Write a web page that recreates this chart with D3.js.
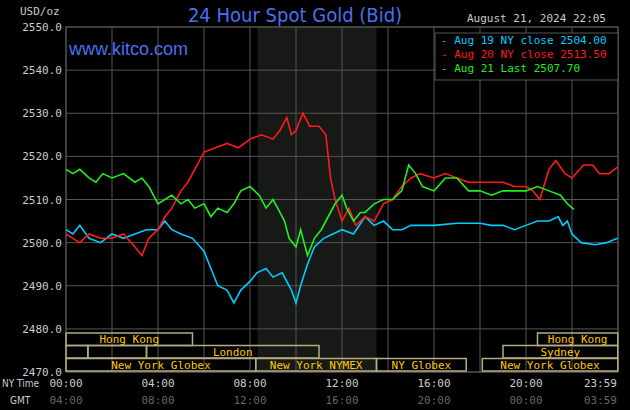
<!DOCTYPE html><html><head><meta charset="utf-8">
<script src="https://cdn.jsdelivr.net/npm/d3@7"></script>
<style>body{margin:0;background:#000}</style></head><body><svg width="630" height="410"></svg>
<script>
const yTicks=[2470,2480,2490,2500,2510,2520,2530,2540,2550];
const xTickLabels=["00:00","04:00","08:00","12:00","16:00","20:00","23:59"];
const gmtLabels=["04:00","08:00","12:00","16:00","20:00","00:00","03:59"];
const xTickHours=[0,4,8,12,16,20,23.983];
// hours, price
const aug19=[[0,2503],[0.3,2502],[0.6,2504],[1,2501],[1.5,2500],[2,2502],[2.5,2501],[3,2502],[3.5,2503],[4,2503],[4.3,2505],[4.6,2503],[5,2502],[5.5,2501],[6,2498],[6.3,2494],[6.6,2490],[7,2489],[7.3,2486],[7.6,2489],[8,2491],[8.3,2493],[8.7,2494],[9,2492],[9.4,2493],[9.8,2489],[10,2486],[10.2,2490],[10.5,2495],[10.8,2499],[11.2,2501],[11.6,2502],[12,2503],[12.5,2502],[13,2506],[13.4,2504],[13.8,2505],[14.2,2503],[14.6,2503],[15,2504],[15.5,2504],[16,2504],[17,2504.5],[18,2504.5],[18.5,2504],[19,2504],[19.5,2503],[20,2504],[20.5,2505],[21,2505],[21.4,2506],[21.6,2504],[21.8,2505],[22,2502],[22.4,2500],[23,2499.5],[23.5,2500],[23.98,2501]];
const aug20=[[0,2502],[0.3,2501],[0.6,2500],[1,2502],[1.5,2501],[2,2501],[2.5,2502],[3,2499],[3.3,2497],[3.6,2501],[4,2503],[4.3,2506],[4.6,2508],[5,2512],[5.3,2514],[5.6,2517],[6,2521],[6.5,2522],[7,2523],[7.5,2522],[8,2524],[8.5,2525],[9,2524],[9.3,2526],[9.6,2529],[9.8,2525],[10,2526],[10.3,2530],[10.6,2527],[11,2527],[11.3,2525],[11.5,2515],[11.7,2510],[12,2505],[12.3,2508],[12.6,2504],[13,2506],[13.4,2505],[13.8,2509],[14.2,2510],[14.6,2513],[15,2515],[15.4,2516],[16,2515],[16.5,2516],[17,2515],[17.5,2514],[18,2514],[19,2514],[19.5,2513],[20,2513],[20.3,2512],[20.6,2510],[21,2517],[21.3,2519],[21.7,2516],[22,2515],[22.5,2518],[22.9,2518],[23.2,2516],[23.6,2516],[23.98,2517.5]];
const aug21=[[0,2517],[0.3,2516],[0.6,2517],[1,2515],[1.3,2514],[1.6,2516],[2,2515],[2.5,2516],[3,2514],[3.3,2515],[3.6,2513],[4,2509],[4.3,2510],[4.6,2511],[5,2509],[5.3,2510],[5.6,2508],[6,2509],[6.3,2506],[6.6,2508],[7,2507],[7.3,2509],[7.6,2512],[8,2513],[8.4,2511],[8.7,2508],[9,2510],[9.3,2507],[9.5,2505],[9.7,2501],[10,2499],[10.2,2503],[10.5,2497],[10.8,2501],[11.1,2503],[11.4,2506],[11.7,2509],[12,2511],[12.2,2508],[12.5,2505],[12.8,2507],[13,2507],[13.4,2509],[13.8,2510],[14.2,2510],[14.6,2512],[14.9,2518],[15.2,2516],[15.5,2513],[16,2512],[16.5,2515],[17,2515],[17.5,2512],[18,2512],[18.5,2511],[19,2512],[19.5,2512],[20,2512],[20.5,2513],[21,2512],[21.5,2511],[21.8,2509],[22.08,2507.7]];
const sessions=[
 {row:0,a:0,b:5.5,t:"Hong Kong"},{row:0,a:20.5,b:23.99,t:"Hong Kong"},
 {row:1,a:0,b:0.95,t:""},{row:1,a:0.95,b:3.5,t:""},{row:1,a:3.5,b:11,t:"London"},{row:1,a:19,b:23.99,t:"Sydney"},
 {row:2,a:0,b:8.25,t:"New York Globex"},{row:2,a:8.25,b:13.5,t:"New York NYMEX"},{row:2,a:13.5,b:17.4,t:"NY Globex"},{row:2,a:18.1,b:23.99,t:"New York Globex"}];
const legend=[{t:"Aug 19 NY close 2504.00",c:"#00ccff"},{t:"Aug 20 NY close 2513.50",c:"#ff1a1a"},{t:"Aug 21 Last 2507.70",c:"#22ee22"}];

const svg=d3.select("svg");
const x=d3.scaleLinear().domain([0,24]).range([66,618]);
const y=d3.scaleLinear().domain([2470,2550]).range([372,27]);
const mono="'DejaVu Sans Mono',monospace";
svg.append("rect").attr("width",630).attr("height",410).attr("fill","#000");
svg.append("rect").attr("x",x(8.33)).attr("y",27).attr("width",x(13.5)-x(8.33)).attr("height",345).attr("fill","#161916");
const g=svg.append("g");
d3.range(0,25,2).forEach(h=>g.append("line").attr("x1",x(h)).attr("x2",x(h)).attr("y1",27).attr("y2",372).attr("stroke","#555"));
yTicks.forEach(v=>g.append("line").attr("x1",66).attr("x2",618).attr("y1",y(v)).attr("y2",y(v)).attr("stroke","#555"));
svg.append("rect").attr("x",66).attr("y",27).attr("width",552).attr("height",345).attr("fill","none").attr("stroke","#555");
yTicks.forEach(v=>svg.append("text").attr("x",62).attr("y",y(v)+4).attr("text-anchor","end").attr("fill","#ccc").attr("font-family",mono).attr("font-size",11).text(v.toFixed(1)));
svg.append("text").attr("x",20).attr("y",15).attr("fill","#ccc").attr("font-family",mono).attr("font-size",11).text("USD/oz");
xTickHours.forEach((h,i)=>{
 const last=i==6;
 svg.append("text").attr("x",last?617:x(h)).attr("y",387).attr("text-anchor",last?"end":"middle").attr("fill","#ccc").attr("font-family",mono).attr("font-size",11).text(xTickLabels[i]);
 svg.append("text").attr("x",last?617:x(h)).attr("y",404).attr("text-anchor",last?"end":"middle").attr("fill","#666").attr("font-family",mono).attr("font-size",11).text(gmtLabels[i]);});
svg.append("text").attr("x",2).attr("y",387).attr("fill","#ccc").attr("font-family","'DejaVu Sans Condensed',sans-serif").attr("font-size",10).text("NY Time");
svg.append("text").attr("x",10).attr("y",404).attr("fill","#ccc").attr("font-family","'DejaVu Sans Condensed',sans-serif").attr("font-size",10).text("GMT");
const rowY=[333,345.5,358.5];
sessions.forEach(s=>{
 svg.append("rect").attr("x",x(s.a)).attr("y",rowY[s.row]).attr("width",x(s.b)-x(s.a)).attr("height",12.5).attr("fill","none").attr("stroke","#b5ad80").attr("stroke-width",1.5);
 if(s.t)svg.append("text").attr("x",(x(s.a)+x(s.b))/2).attr("y",rowY[s.row]+10).attr("text-anchor","middle").attr("fill","#ffc800").attr("font-family",mono).attr("font-size",11).text(s.t);});
const line=d3.line().x(d=>x(d[0])).y(d=>y(d[1]));
[[aug19,"#00ccff"],[aug20,"#ff1a1a"],[aug21,"#22ee22"]].forEach(([d,c])=>svg.append("path").attr("d",line(d)).attr("fill","none").attr("stroke",c).attr("stroke-width",1.6));
svg.append("rect").attr("x",435).attr("y",33).attr("width",183).attr("height",47).attr("fill","#000").attr("stroke","#555");
legend.forEach((l,i)=>svg.append("text").attr("x",441).attr("y",44+i*14).attr("fill",l.c).attr("font-family",mono).attr("font-size",11).attr("xml:space","preserve").text("- "+l.t.replace(/^/,"")).attr("dx",0));
svg.append("text").attr("x",295).attr("y",22).attr("text-anchor","middle").attr("fill","#4d6ff0").attr("font-family","'Liberation Sans Narrow','DejaVu Sans Condensed',sans-serif").attr("font-size",20).text("24 Hour Spot Gold (Bid)");
svg.append("text").attr("x",69).attr("y",55).attr("fill","#4d6ff0").attr("font-family","'Liberation Sans',sans-serif").attr("font-size",18).text("www.kitco.com");
svg.append("text").attr("x",606).attr("y",22).attr("text-anchor","end").attr("fill","#ccc").attr("font-family",mono).attr("font-size",11).text("August 21, 2024 22:05");
</script></body></html>
